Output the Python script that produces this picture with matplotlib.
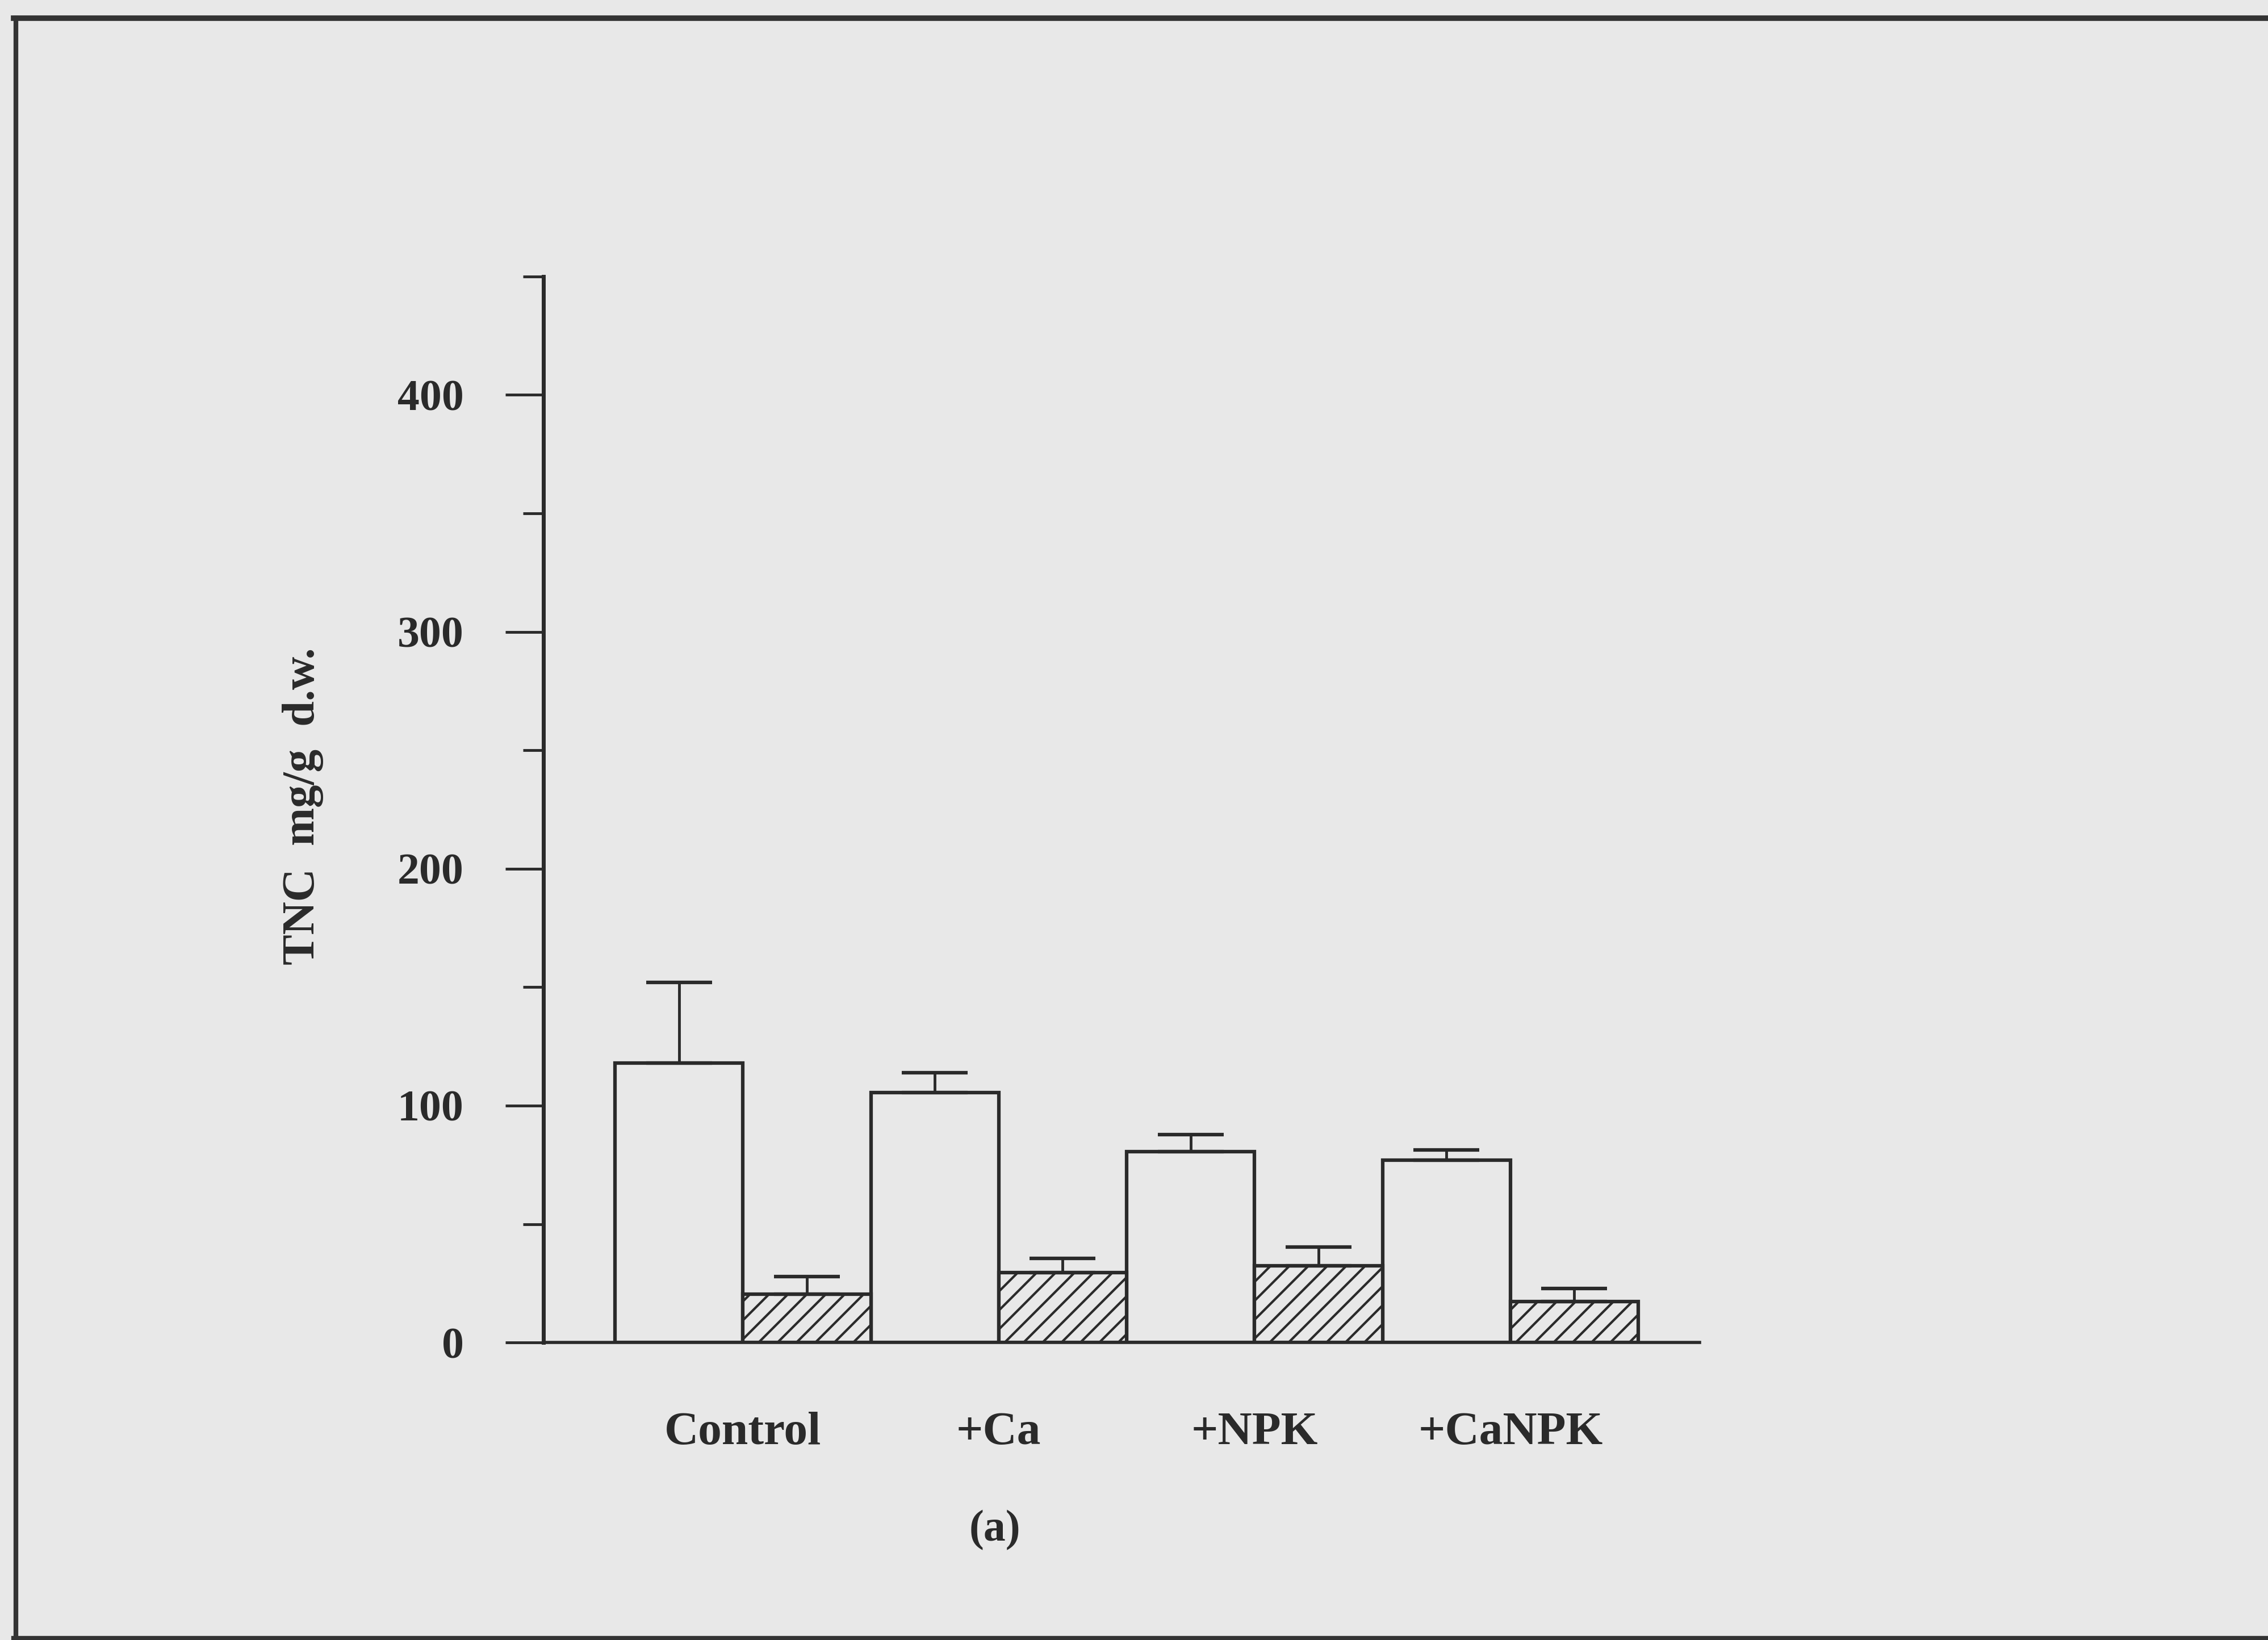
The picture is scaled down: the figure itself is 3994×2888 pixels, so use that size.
# TNC bar chart, scanned figure (a)
import numpy as np
import matplotlib.pyplot as plt
from matplotlib.lines import Line2D

groups = ['Control', '+Ca', '+NPK', '+CaNPK']
open_vals = [118, 105.5, 80.6, 76.9]      # plain bars
open_err = [34, 8.5, 7.2, 4.3]
hatch_vals = [20.4, 29.5, 32.4, 17.3]     # hatched bars
hatch_err = [7.4, 6.0, 8.0, 5.5]
yticks = [0, 100, 200, 300, 400]
yminor = [50, 150, 250, 350, 450]

bg = '#e8e8e8'
ink = '#2a2a2a'
plt.rcParams['font.family'] = ['Liberation Serif', 'DejaVu Serif']
plt.rcParams['font.weight'] = 'bold'
plt.rcParams['axes.labelweight'] = 'bold'
plt.rcParams['hatch.linewidth'] = 3.0
plt.rcParams['hatch.color'] = ink

fig = plt.figure(figsize=(39.94, 28.88), dpi=100, facecolor=bg)
ax = fig.add_axes([0.2396, 0.1814, 0.5098, 0.650])
ax.set_facecolor(bg)

x = np.arange(len(groups)) * 2
ax.bar(x, open_vals, width=1.0, color=bg, edgecolor=ink, linewidth=4.5,
       yerr=[np.zeros(4), open_err], capsize=42,
       error_kw=dict(ecolor=ink, elinewidth=3.5, capthick=4.5))
ax.bar(x + 1, hatch_vals, width=1.0, color=bg, edgecolor=ink, linewidth=4.5,
       hatch='/', yerr=[np.zeros(4), hatch_err], capsize=42,
       error_kw=dict(ecolor=ink, elinewidth=3.5, capthick=4.5))

ax.set_xlim(-1.06, 7.98)
ax.set_ylim(0, 450)
ax.set_yticks(yticks)
ax.set_yticks(yminor, minor=True)
ax.set_xticks(x + 0.5)
ax.set_xticklabels(groups)

for s in ['top', 'right']:
    ax.spines[s].set_visible(False)
ax.spines['left'].set_linewidth(5)
ax.spines['bottom'].set_linewidth(4)
ax.spines['left'].set_color(ink)
ax.spines['bottom'].set_color(ink)

ax.tick_params(axis='y', which='major', length=48, width=3.5, pad=53,
               labelsize=56, colors=ink)
ax.tick_params(axis='y', which='minor', length=26, width=3.5, colors=ink)
ax.tick_params(axis='x', length=0, pad=88, labelsize=60, colors=ink)

ax.set_ylabel('TNC  mg/g  d.w.', fontsize=58, color=ink)
ax.yaxis.set_label_coords(-0.19, 0.503)

fig.text(0.4387, 0.0668, '(a)', fontsize=56, color=ink, ha='center', va='center')

# border of the scanned panel
fig.add_artist(Line2D([0.006, 1.0], [1 - 32 / 2888] * 2, color='#333333', lw=7))
fig.add_artist(Line2D([28 / 3994] * 2, [2 / 2888, 1 - 32 / 2888], color='#333333', lw=6))
fig.add_artist(Line2D([0.006, 1.0], [3 / 2888] * 2, color='#333333', lw=6))

fig.savefig('out.png', dpi=100, facecolor=bg)
